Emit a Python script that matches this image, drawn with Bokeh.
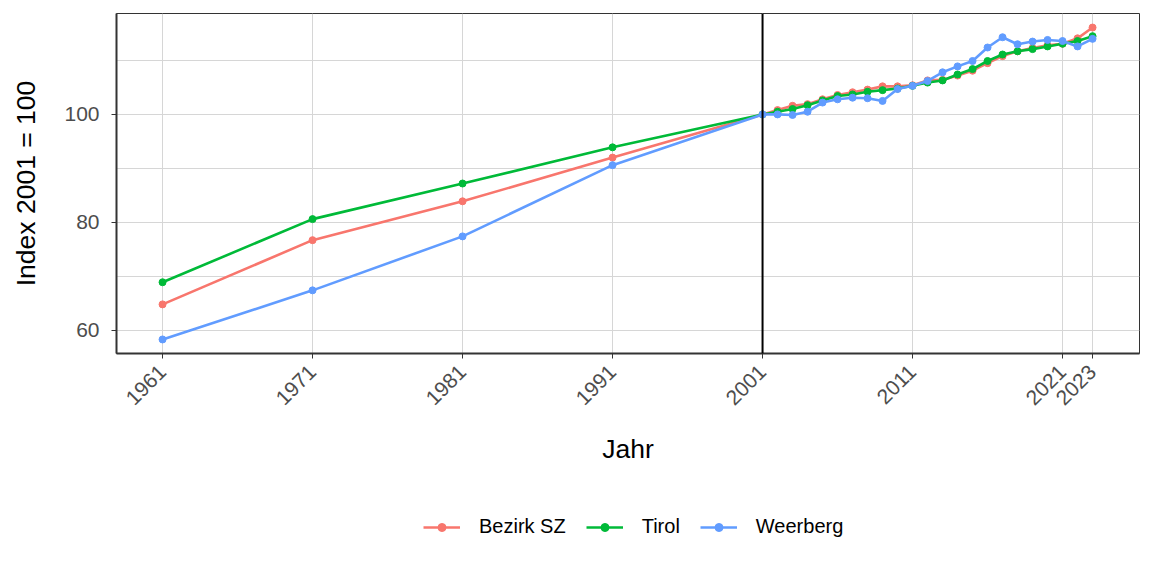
import math
from bokeh.plotting import figure
from bokeh.layouts import column
from bokeh.models import FixedTicker, Legend, LegendItem, Span, ColumnDataSource
from bokeh.embed import file_html
from bokeh.resources import INLINE

years = [1961, 1971, 1981, 1991, 2001, 2002, 2003, 2004, 2005, 2006, 2007, 2008,
         2009, 2010, 2011, 2012, 2013, 2014, 2015, 2016, 2017, 2018, 2019, 2020,
         2021, 2022, 2023]
bezirk_sz = [64.8, 76.7, 83.9, 92.0, 100.0, 100.8, 101.6, 101.9, 102.8, 103.6, 104.1,
             104.6, 105.2, 105.2, 105.4, 106.3, 106.4, 107.2, 108.1, 109.5, 110.8,
             111.7, 112.3, 112.8, 113.1, 114.1, 116.1]
tirol = [68.9, 80.6, 87.2, 93.9, 100.0, 100.5, 101.0, 101.7, 102.6, 103.4, 103.7,
         104.2, 104.5, 104.8, 105.3, 105.9, 106.3, 107.4, 108.4, 109.9, 111.1,
         111.7, 112.1, 112.6, 113.1, 113.6, 114.5]
weerberg = [58.3, 67.4, 77.4, 90.6, 100.0, 100.0, 99.9, 100.5, 102.2, 102.8, 103.1,
            103.0, 102.5, 104.7, 105.3, 106.2, 107.8, 108.9, 109.9, 112.4, 114.3,
            113.0, 113.5, 113.8, 113.6, 112.6, 114.0]
series_names = ["Bezirk SZ", "Tirol", "Weerberg"]
series_colors = ["#F8766D", "#00BA38", "#619CFF"]
x_ticks = [1961, 1971, 1981, 1991, 2001, 2011, 2021, 2023]
y_ticks = [60, 80, 100]
y_minor = [70, 90, 110]
ref_year = 2001

FONT = "Liberation Sans"

p = figure(frame_width=1023, frame_height=340, output_backend="svg", toolbar_location=None,
           x_range=(1957.93, 2026.13), y_range=(55.7, 118.7),
           min_border_left=116, min_border_right=13, min_border_top=13,
           min_border_bottom=137)
p.background_fill_color = "white"
p.border_fill_color = "white"
p.outline_line_color = "#333333"
p.outline_line_width = 1

p.xaxis.ticker = FixedTicker(ticks=x_ticks)
p.yaxis.ticker = FixedTicker(ticks=y_ticks, minor_ticks=y_minor)
p.xgrid.ticker = FixedTicker(ticks=x_ticks)
p.xgrid.grid_line_color = "#D6D6D6"
p.ygrid.grid_line_color = "#D6D6D6"
p.ygrid.minor_grid_line_color = "#D6D6D6"
p.xgrid.grid_line_width = 1
p.ygrid.grid_line_width = 1

for ax in (p.xaxis, p.yaxis):
    ax.axis_line_color = "#333333"
    ax.axis_line_width = 2
    ax.major_tick_line_color = "#333333"
    ax.major_tick_out = 5
    ax.major_tick_in = 0
    ax.minor_tick_line_color = None
    ax.major_label_text_font = FONT
    ax.major_label_text_font_size = "21px"
    ax.major_label_text_color = "#4D4D4D"
    ax.axis_label_text_font = FONT
    ax.axis_label_text_font_size = "26.5px"
    ax.axis_label_text_font_style = "normal"
    ax.axis_label_text_color = "black"

p.xaxis.major_label_standoff = 10
p.yaxis.major_label_standoff = 12
p.xaxis.major_label_orientation = math.pi / 4
p.xaxis.axis_label = "Jahr"
p.yaxis.axis_label = "Index 2001 = 100"
p.xaxis.axis_label_standoff = 20
p.yaxis.axis_label_standoff = 20

p.add_layout(Span(location=ref_year, dimension="height", line_color="black", line_width=2))

all_series = [bezirk_sz, tirol, weerberg]
for vals, col in zip(all_series, series_colors):
    src = ColumnDataSource(dict(x=years, y=vals))
    p.line("x", "y", source=src, line_color=col, line_width=2.6)
    p.scatter("x", "y", source=src, color=col, size=7)

# legend strip below the chart (its renderers lie outside its own ranges)
lg = figure(width=1152, height=86, output_backend="svg", toolbar_location=None,
            x_range=(0, 1), y_range=(0, 1), min_border=0)
lg.axis.visible = False
lg.grid.visible = False
lg.outline_line_color = None
items = []
for name, vals, col in zip(series_names, all_series, series_colors):
    src = ColumnDataSource(dict(x=years, y=vals))
    r1 = lg.line("x", "y", source=src, line_color=col, line_width=2.6)
    r2 = lg.scatter("x", "y", source=src, color=col, size=6)
    items.append(LegendItem(label=name, renderers=[r1, r2]))
legend = Legend(items=items, orientation="horizontal", location=(307, 38),
                label_text_font=FONT, label_text_font_size="20px",
                label_text_color="black", glyph_width=37, glyph_height=20,
                spacing=20, label_standoff=19, border_line_color=None,
                background_fill_alpha=0, margin=0, padding=0)
lg.add_layout(legend)

layout = column(p, lg, spacing=0)
open("out.html", "w").write(file_html(layout, INLINE))
